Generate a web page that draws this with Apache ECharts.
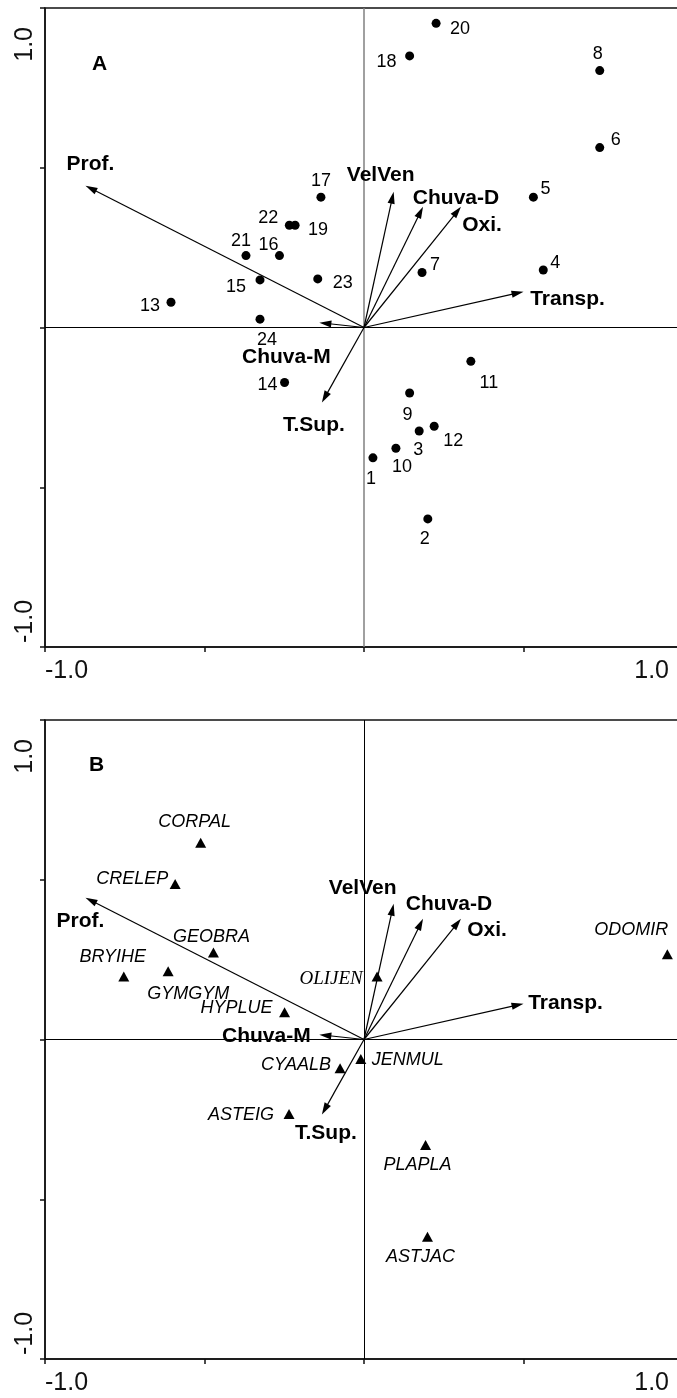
<!DOCTYPE html>
<html>
<head>
<meta charset="utf-8">
<script src="https://cdn.jsdelivr.net/npm/echarts@6/dist/echarts.min.js"></script>
<style>
  html, body { margin: 0; padding: 0; background: #fff; }
  #chart { width: 677px; height: 1398px; }
</style>
</head>
<body>
<div id="chart"></div>
<script>
// CCA ordination biplots: (A) sampling sites and (B) species,
// each with the environmental variable vectors drawn from the origin.

// ---- axes ----
const axisRange = [-1, 1];
const axisTickStep = 0.5;
const axisEndLabels = ['-1.0', '1.0'];

// ---- environmental vectors (tip coordinates) ----
const envNames = ['Prof.', 'VelVen', 'Chuva-D', 'Oxi.', 'Transp.', 'Chuva-M', 'T.Sup.'];
const envX = [-0.873, 0.093, 0.185, 0.304, 0.500, -0.140, -0.132];
const envY = [0.444, 0.425, 0.378, 0.378, 0.112, 0.015, -0.235];

// ---- sampling sites (panel A) ----
const siteIds = [1, 2, 3, 4, 5, 6, 7, 8, 9, 10, 11, 12, 13, 14, 15, 16, 17, 18, 19, 20, 21, 22, 23, 24];
const siteX = [0.028, 0.200, 0.173, 0.562, 0.531, 0.739, 0.182, 0.739, 0.143, 0.100, 0.335, 0.220,
               -0.605, -0.249, -0.326, -0.265, -0.135, 0.143, -0.216, 0.226, -0.370, -0.234, -0.145, -0.326];
const siteY = [-0.408, -0.599, -0.324, 0.180, 0.408, 0.563, 0.172, 0.804, -0.205, -0.378, -0.106, -0.309,
               0.079, -0.172, 0.149, 0.225, 0.408, 0.850, 0.320, 0.952, 0.225, 0.320, 0.152, 0.026];

// ---- species (panel B) ----
const speciesCodes = ['CORPAL', 'CRELEP', 'GEOBRA', 'BRYIHE', 'GYMGYM', 'HYPLUE', 'OLIJEN',
                      'ODOMIR', 'CYAALB', 'JENMUL', 'ASTEIG', 'PLAPLA', 'ASTJAC'];
const speciesX = [-0.512, -0.592, -0.472, -0.753, -0.614, -0.249, 0.041, 0.951, -0.075, -0.010, -0.235, 0.193, 0.199];
const speciesY = [0.616, 0.487, 0.272, 0.197, 0.214, 0.085, 0.197, 0.267, -0.090, -0.061, -0.233, -0.330, -0.617];

// ---- label placement (pixel offsets of label centre from the mark) ----
const siteLabelOffset = {
  1: [-2, 21], 2: [-3, 20], 3: [-1, 19], 4: [12, -7], 5: [12, -8], 6: [16, -8],
  7: [13, -8], 8: [-2, -17], 9: [-2, 22], 10: [6, 19], 11: [18, 22], 12: [19, 15],
  13: [-21, 4], 14: [-17, 3], 15: [-24, 7], 16: [-11, -11], 17: [0, -16], 18: [-23, 6],
  19: [23, 5], 20: [24, 6], 21: [-5, -15], 22: [-21, -7], 23: [25, 4], 24: [7, 21]
};
const speciesLabelOffset = {
  CORPAL: [-6, -21], CRELEP: [-43, -5], GEOBRA: [-2, -16], BRYIHE: [-11, -20],
  GYMGYM: [20, 23], HYPLUE: [-48, -4], OLIJEN: [-46, 2], ODOMIR: [-36, -24],
  CYAALB: [-44, -3], JENMUL: [47, 1], ASTEIG: [-48, 1], PLAPLA: [-8, 20], ASTJAC: [-7, 20]
};
const envLabelOffsetA = [[5, -21], [-13, -17], [33, -9], [21, 18], [44, 7], [-33, 34], [-8, 23]];
const envLabelOffsetB = [[-5, 24], [-31, -16], [26, -15], [26, 11], [42, -1], [-53, 1], [4, 19]];

const SANS = '"Liberation Sans", Arial, Helvetica, sans-serif';
const SERIF = '"Liberation Serif", "Times New Roman", serif';

function endLabel(v) {
  if (Math.abs(v - axisRange[0]) < 1e-9) return axisEndLabels[0];
  if (Math.abs(v - axisRange[1]) < 1e-9) return axisEndLabels[1];
  return '';
}

const frameLine = { color: '#111', width: 1.5 };

function xAxisFor(gridIndex) {
  return {
    type: 'value', gridIndex,
    min: axisRange[0], max: axisRange[1], interval: axisTickStep,
    axisLine: { show: true, onZero: false, lineStyle: frameLine },
    axisTick: { show: true, inside: false, length: 5, lineStyle: frameLine },
    splitLine: { show: false },
    axisLabel: {
      formatter: endLabel, fontSize: 25, fontFamily: SANS, color: '#111',
      margin: 12, alignMinLabel: 'left', alignMaxLabel: 'right', padding: [0, 14, 0, 0]
    }
  };
}
function yAxisFor(gridIndex) {
  return {
    type: 'value', gridIndex,
    min: axisRange[0], max: axisRange[1], interval: axisTickStep,
    axisLine: { show: true, onZero: false, lineStyle: frameLine },
    axisTick: { show: true, inside: false, length: 5, lineStyle: frameLine },
    splitLine: { show: false },
    axisLabel: {
      formatter: endLabel, fontSize: 25, fontFamily: SANS, color: '#111', rotate: 90,
      margin: 7, alignMinLabel: 'left', alignMaxLabel: 'right', padding: [0, 19, 0, 4]
    }
  };
}

// environmental arrows, drawn from the origin of the panel's axes
function arrowSeries(axisIndex, labelOffsets) {
  return {
    type: 'custom',
    xAxisIndex: axisIndex, yAxisIndex: axisIndex,
    silent: true, z: 5, clip: false,
    data: envNames.map((n, i) => [envX[i], envY[i]]),
    renderItem: function (params, api) {
      const i = params.dataIndex;
      const o = api.coord([0, 0]);
      const t = api.coord([api.value(0), api.value(1)]);
      const dx = t[0] - o[0], dy = t[1] - o[1];
      const len = Math.sqrt(dx * dx + dy * dy) || 1;
      const ux = dx / len, uy = dy / len;
      const headL = 12, headW = 3.6;
      const bx = t[0] - ux * headL, by = t[1] - uy * headL;
      const nx = -uy, ny = ux;
      const off = labelOffsets[i];
      return {
        type: 'group',
        children: [
          { type: 'line', shape: { x1: o[0], y1: o[1], x2: bx + ux * 2, y2: by + uy * 2 },
            style: { stroke: '#000', lineWidth: 1.2 } },
          { type: 'polygon',
            shape: { points: [[t[0], t[1]], [bx + nx * headW, by + ny * headW], [bx - nx * headW, by - ny * headW]] },
            style: { fill: '#000' } },
          { type: 'text',
            style: { text: envNames[i], x: t[0] + off[0], y: t[1] + off[1],
                     align: 'center', verticalAlign: 'middle',
                     font: 'bold 21px ' + SANS, fill: '#000' } }
        ]
      };
    }
  };
}

function zeroLines(vColor, vWidth) {
  return {
    silent: true, symbol: ['none', 'none'], animation: false,
    label: { show: false },
    data: [
      { xAxis: 0, lineStyle: { color: vColor, width: vWidth, type: 'solid' } },
      { yAxis: 0, lineStyle: { color: '#000', width: 1, type: 'solid' } }
    ]
  };
}

const chart = echarts.init(document.getElementById('chart'), null, { renderer: 'canvas' });

const gridBase = {
  left: 45, width: 638, height: 639, show: true,
  borderColor: '#111', borderWidth: 1.5, backgroundColor: 'transparent',
  containLabel: false, outerBoundsMode: 'none'
};

chart.setOption({
  animation: false,
  backgroundColor: '#fff',
  title: [
    { text: 'A', left: 92, top: 54, padding: 0,
      textStyle: { fontSize: 21, fontWeight: 'bold', fontFamily: SANS, color: '#000' } },
    { text: 'B', left: 89, top: 755, padding: 0,
      textStyle: { fontSize: 21, fontWeight: 'bold', fontFamily: SANS, color: '#000' } }
  ],
  grid: [
    Object.assign({ top: 8 }, gridBase),
    Object.assign({ top: 720 }, gridBase)
  ],
  xAxis: [xAxisFor(0), xAxisFor(1)],
  yAxis: [yAxisFor(0), yAxisFor(1)],
  series: [
    {
      type: 'scatter', name: 'sites',
      xAxisIndex: 0, yAxisIndex: 0, z: 6,
      symbol: 'circle', symbolSize: 9,
      itemStyle: { color: '#000', opacity: 1 },
      label: {
        show: true, position: 'inside', formatter: '{b}',
        align: 'center', verticalAlign: 'middle',
        fontSize: 18, fontFamily: SANS, color: '#000'
      },
      data: siteIds.map((id, i) => ({
        name: String(id), value: [siteX[i], siteY[i]],
        label: { offset: siteLabelOffset[id] }
      })),
      markLine: zeroLines('#808080', 1.5)
    },
    arrowSeries(0, envLabelOffsetA),
    {
      type: 'scatter', name: 'species',
      xAxisIndex: 1, yAxisIndex: 1, z: 6,
      symbol: 'triangle', symbolSize: [11, 10],
      itemStyle: { color: '#000', opacity: 1 },
      label: {
        show: true, position: 'inside', formatter: '{b}',
        align: 'center', verticalAlign: 'middle',
        fontSize: 18, fontStyle: 'italic', fontFamily: SANS, color: '#000'
      },
      data: speciesCodes.map((code, i) => ({
        name: code, value: [speciesX[i], speciesY[i]],
        label: code === 'OLIJEN'
          ? { offset: speciesLabelOffset[code], fontFamily: SERIF, fontSize: 19 }
          : { offset: speciesLabelOffset[code] }
      })),
      markLine: zeroLines('#000', 1)
    },
    arrowSeries(1, envLabelOffsetB)
  ]
});
</script>
</body>
</html>
